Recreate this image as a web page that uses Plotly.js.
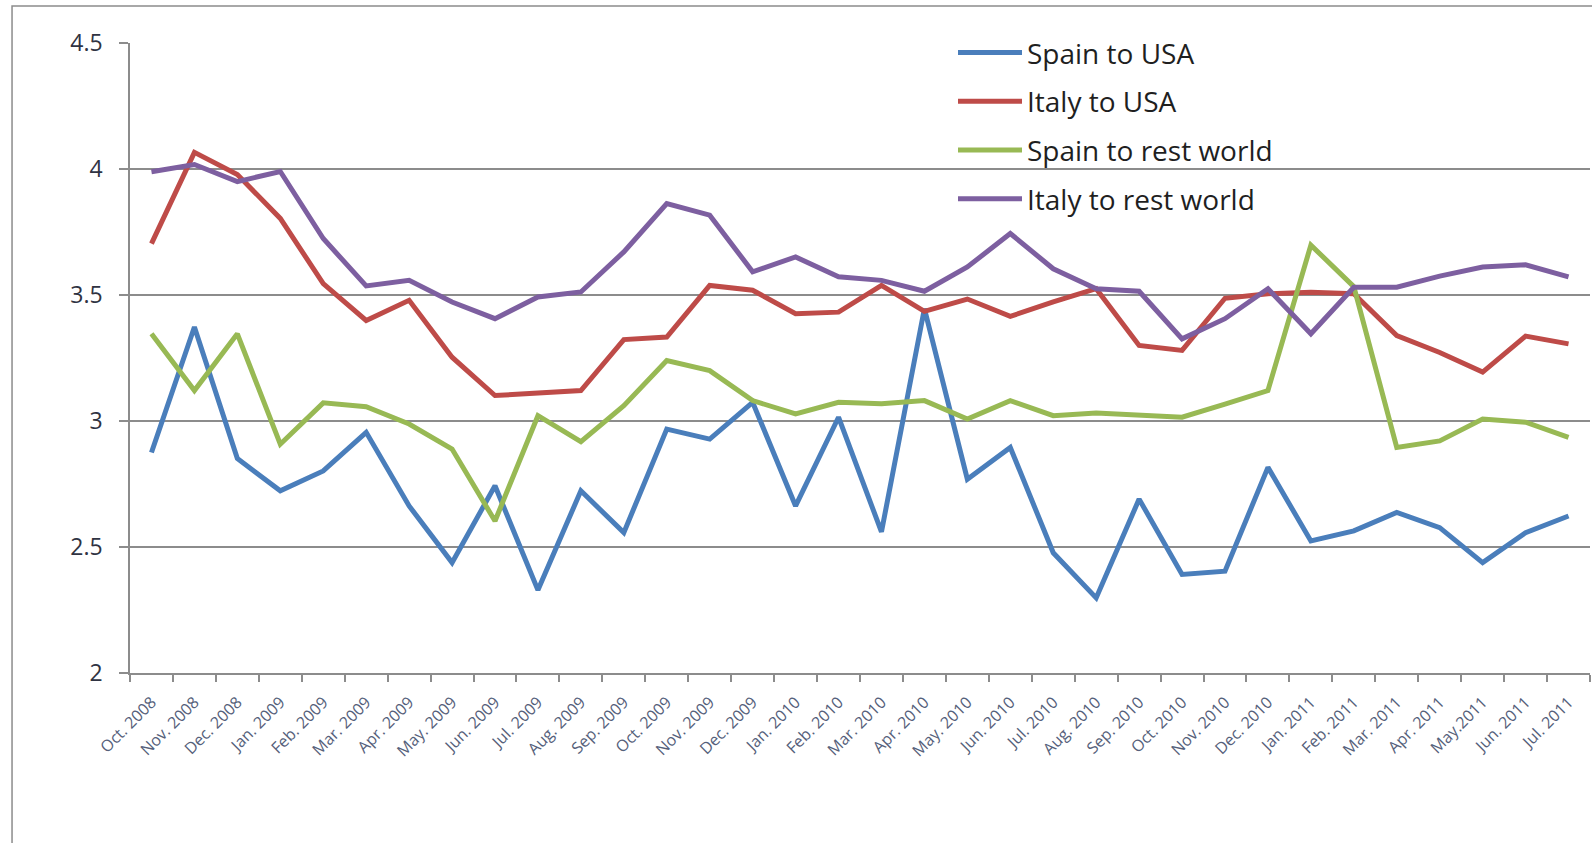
<!DOCTYPE html>
<html>
<head>
<meta charset="utf-8">
<script src="https://cdn.plot.ly/plotly-3.0.1.min.js"></script>
<style>
  html, body { margin: 0; padding: 0; background: #ffffff; }
  #chart { width: 1592px; height: 843px; }
</style>
</head>
<body>
<div id="chart"></div>
<script>
// ---- data ----
const months = [
  "Oct. 2008", "Nov. 2008", "Dec. 2008",
  "Jan. 2009", "Feb. 2009", "Mar. 2009", "Apr. 2009", "May. 2009", "Jun. 2009",
  "Jul. 2009", "Aug. 2009", "Sep. 2009", "Oct. 2009", "Nov. 2009", "Dec. 2009",
  "Jan. 2010", "Feb. 2010", "Mar. 2010", "Apr. 2010", "May. 2010", "Jun. 2010",
  "Jul. 2010", "Aug. 2010", "Sep. 2010", "Oct. 2010", "Nov. 2010", "Dec. 2010",
  "Jan. 2011", "Feb. 2011", "Mar. 2011", "Apr. 2011", "May.2011", "Jun. 2011", "Jul. 2011"
];

const spainToUSA = [
  2.875, 3.373, 2.851, 2.723, 2.802, 2.955, 2.663, 2.438, 2.743, 2.329,
  2.723, 2.557, 2.968, 2.928, 3.074, 2.663, 3.015, 2.560, 3.446, 2.769,
  2.895, 2.477, 2.298, 2.690, 2.391, 2.404, 2.816, 2.524, 2.564, 2.637,
  2.577, 2.438, 2.557, 2.623
];

const italyToUSA = [
  3.704, 4.066, 3.978, 3.804, 3.545, 3.399, 3.479, 3.253, 3.101, 3.110,
  3.121, 3.323, 3.333, 3.538, 3.519, 3.426, 3.432, 3.538, 3.435, 3.484,
  3.415, 3.473, 3.525, 3.300, 3.280, 3.487, 3.505, 3.511, 3.505, 3.339,
  3.272, 3.194, 3.337, 3.306
];

const spainToRest = [
  3.346, 3.121, 3.346, 2.908, 3.072, 3.057, 2.988, 2.889, 2.603, 3.021,
  2.918, 3.061, 3.240, 3.200, 3.081, 3.028, 3.074, 3.068, 3.081, 3.008,
  3.081, 3.021, 3.032, 3.024, 3.015, 3.067, 3.121, 3.698, 3.533, 2.895,
  2.921, 3.008, 2.995, 2.935
];

const italyToRest = [
  3.989, 4.018, 3.950, 3.990, 3.724, 3.536, 3.558, 3.472, 3.406, 3.492,
  3.512, 3.671, 3.863, 3.817, 3.592, 3.651, 3.572, 3.558, 3.515, 3.611,
  3.744, 3.604, 3.525, 3.515, 3.326, 3.406, 3.525, 3.346, 3.531, 3.531,
  3.575, 3.611, 3.620, 3.572
];

const seriesNames = ["Spain to USA", "Italy to USA", "Spain to rest world", "Italy to rest world"];
const seriesValues = [spainToUSA, italyToUSA, spainToRest, italyToRest];
const seriesColors = ["#4a7ebb", "#be4b48", "#98b954", "#7d5fa0"];

const yTicks = [2, 2.5, 3, 3.5, 4, 4.5];
const yTickText = ["2", "2.5", "3", "3.5", "4", "4.5"];

// ---- traces ----
const traces = seriesNames.map((name, k) => ({
  type: "scatter",
  mode: "lines",
  name: name,
  legendgroup: "g" + k,
  x: months,
  y: seriesValues[k],
  line: { color: seriesColors[k], width: 5, shape: "linear" },
  hoverinfo: "x+y+name"
}));

const gridColor = "#8c8c8c";

const layout = {
  width: 1592,
  height: 843,
  paper_bgcolor: "#ffffff",
  plot_bgcolor: "#ffffff",
  margin: { l: 130, r: 2, t: 43, b: 170, pad: 0 },
  font: { family: "Open Sans, sans-serif", color: "#333333" },
  showlegend: true,
  legend: {
    x: 0.5637,
    xanchor: "left",
    y: 1.024,
    yanchor: "top",
    bgcolor: "rgba(0,0,0,0)",
    borderwidth: 0,
    traceorder: "grouped",
    tracegroupgap: 9.3,
    itemwidth: 64,
    font: { family: "Open Sans, sans-serif", size: 28, color: "#1f1f1f" }
  },
  xaxis: {
    type: "category",
    range: [-0.5, months.length - 0.5],
    tickson: "boundaries",
    ticks: "outside",
    ticklen: 7,
    tickwidth: 1.5,
    tickcolor: gridColor,
    ticklabelstandoff: 12,
    showline: true,
    linecolor: gridColor,
    linewidth: 1.5,
    showgrid: false,
    zeroline: false,
    tickangle: -45,
    tickfont: { family: "Open Sans, sans-serif", size: 16, color: "#55607a" },
    fixedrange: true
  },
  yaxis: {
    range: [2, 4.5],
    tickvals: yTicks,
    ticktext: yTickText,
    ticks: "outside",
    ticklen: 9,
    tickwidth: 1.5,
    tickcolor: gridColor,
    ticklabelstandoff: 12,
    showline: true,
    linecolor: gridColor,
    linewidth: 1.5,
    showgrid: true,
    gridcolor: gridColor,
    gridwidth: 1.5,
    zeroline: false,
    tickfont: { family: "Open Sans, sans-serif", size: 23, color: "#2f3342" },
    fixedrange: true
  },
  shapes: [
    {
      type: "rect",
      xref: "paper", yref: "paper",
      x0: -0.0808, x1: 1.2,
      y0: -0.5, y1: 1.0587,
      line: { color: "#8c8c8c", width: 1.5 },
      fillcolor: "rgba(0,0,0,0)",
      layer: "below"
    }
  ]
};

Plotly.newPlot("chart", traces, layout, { displayModeBar: false, responsive: false });
</script>
</body>
</html>
